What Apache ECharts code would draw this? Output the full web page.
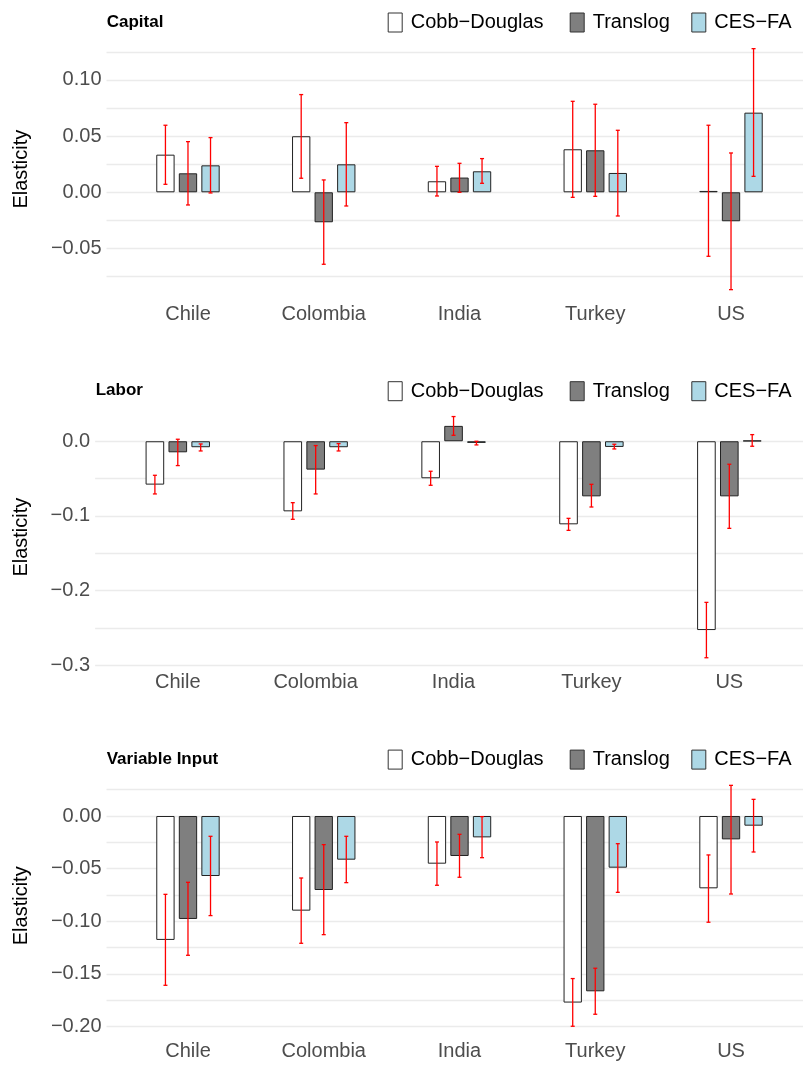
<!DOCTYPE html>
<html>
<head>
<meta charset="utf-8">
<script src="https://cdn.jsdelivr.net/npm/echarts@6/dist/echarts.min.js"></script>
<style>
  html, body { margin: 0; padding: 0; background: #ffffff; }
  #chart { width: 803px; height: 1066px; }
</style>
</head>
<body>
<div id="chart"></div>
<script>
// ---------- DATA ----------
const countries = ['Chile', 'Colombia', 'India', 'Turkey', 'US'];
const models = ['Cobb\u2212Douglas', 'Translog', 'CES\u2212FA'];
const panelTitles = ['Capital', 'Labor', 'Variable Input'];
const yTitle = 'Elasticity';

// Capital
const capitalCD = [0.0335, 0.0499, 0.0098, 0.0383, 0.0012];
const capitalCDLow = [0.0071, 0.0125, -0.0033, -0.0045, -0.0570];
const capitalCDHigh = [0.0597, 0.0870, 0.0231, 0.0810, 0.0597];
const capitalTL = [0.0169, -0.0267, 0.0131, 0.0374, -0.0258];
const capitalTLLow = [-0.0113, -0.0641, 0.0000, -0.0036, -0.0867];
const capitalTLHigh = [0.0451, 0.0110, 0.0258, 0.0784, 0.0350];
const capitalCES = [0.0240, 0.0249, 0.0187, 0.0172, 0.0709];
const capitalCESLow = [-0.0006, -0.0122, 0.0080, -0.0211, 0.0142];
const capitalCESHigh = [0.0487, 0.0620, 0.0300, 0.0552, 0.1279];

// Labor
const laborCD = [-0.0581, -0.0939, -0.0496, -0.1113, -0.2530];
const laborCDLow = [-0.0706, -0.1046, -0.0590, -0.1194, -0.2901];
const laborCDHigh = [-0.0456, -0.0823, -0.0402, -0.1033, -0.2159];
const laborTL = [-0.0148, -0.0380, 0.0206, -0.0738, -0.0738];
const laborTLLow = [-0.0326, -0.0706, 0.0080, -0.0881, -0.1167];
const laborTLHigh = [0.0027, -0.0058, 0.0331, -0.0577, -0.0308];
const laborCES = [-0.0080, -0.0080, -0.0022, -0.0076, 0.0009];
const laborCESLow = [-0.0130, -0.0130, -0.0049, -0.0103, -0.0067];
const laborCESHigh = [-0.0036, -0.0031, 0.0000, -0.0040, 0.0089];

// Variable input
const varInputCD = [-0.1177, -0.0899, -0.0453, -0.1772, -0.0687];
const varInputCDLow = [-0.1608, -0.1209, -0.0658, -0.1997, -0.1009];
const varInputCDHigh = [-0.0744, -0.0589, -0.0247, -0.1544, -0.0370];
const varInputTL = [-0.0978, -0.0703, -0.0380, -0.1665, -0.0222];
const varInputTLLow = [-0.1323, -0.1127, -0.0582, -0.1883, -0.0741];
const varInputTLHigh = [-0.0630, -0.0272, -0.0174, -0.1446, 0.0291];
const varInputCES = [-0.0570, -0.0415, -0.0203, -0.0491, -0.0092];
const varInputCESLow = [-0.0946, -0.0633, -0.0396, -0.0725, -0.0342];
const varInputCESHigh = [-0.0193, -0.0193, -0.0006, -0.0263, 0.0158];

const yDecimals = [2, 1, 2];

// ---------- ASSEMBLY ----------
const panelData = [
  [[capitalCD, capitalCDLow, capitalCDHigh], [capitalTL, capitalTLLow, capitalTLHigh], [capitalCES, capitalCESLow, capitalCESHigh]],
  [[laborCD, laborCDLow, laborCDHigh], [laborTL, laborTLLow, laborTLHigh], [laborCES, laborCESLow, laborCESHigh]],
  [[varInputCD, varInputCDLow, varInputCDHigh], [varInputTL, varInputTLLow, varInputTLHigh], [varInputCES, varInputCESLow, varInputCESHigh]]
];

// layout (pixels)
const layout = [
  { top: 36.6, height: 265.1, leftA: 106.5, leftB: 120.1, rightB: 798.9, titleX: 106.7, titleY: 22.2, legendTop: 12.5 },
  { top: 404.5, height: 265.3, leftA: 95.1, leftB: 108.85, rightB: 798.25, titleX: 95.7, titleY: 390.8, legendTop: 381.2 },
  { top: 773.3, height: 265.0, leftA: 106.5, leftB: 120.1, rightB: 798.9, titleX: 106.7, titleY: 759.3, legendTop: 749.6 }
];
const legendKeyX = [387.7, 569.7, 691.3];

const fills = ['#FFFFFF', '#7F7F7F', '#ADD8E6'];
const FONT = '"Liberation Sans", Arial, Helvetica, sans-serif';
const W = 803;
const BAR_FRAC = 0.135;
const GAP_FRAC = 0.23;

const grids = [], xAxes = [], yAxes = [], series = [], legends = [], graphics = [];

function yRange(p) {
  let lo = Infinity, hi = -Infinity;
  panelData[p].forEach(m => {
    m[1].forEach(v => { lo = Math.min(lo, v); });
    m[2].forEach(v => { hi = Math.max(hi, v); });
    m[0].forEach(v => { lo = Math.min(lo, v); hi = Math.max(hi, v); });
  });
  const e = (hi - lo) * 0.05;
  return [lo - e, hi + e];
}

function errRender(m) {
  return function (params, api) {
    const band = api.size([1, 0])[0];
    const off = (m - 1) * band * BAR_FRAC * (1 + GAP_FRAC);
    const p1 = api.coord([api.value(0), api.value(1)]);
    const p2 = api.coord([api.value(0), api.value(2)]);
    const x = p1[0] + off;
    const cap = 2;
    const style = { stroke: '#FF0000', lineWidth: 1.3 };
    return {
      type: 'group',
      children: [
        { type: 'line', shape: { x1: x, y1: p1[1], x2: x, y2: p2[1] }, style: style },
        { type: 'line', shape: { x1: x - cap, y1: p1[1], x2: x + cap, y2: p1[1] }, style: style },
        { type: 'line', shape: { x1: x - cap, y1: p2[1], x2: x + cap, y2: p2[1] }, style: style }
      ]
    };
  };
}

for (let p = 0; p < 3; p++) {
  const L = layout[p];
  const [ymin, ymax] = yRange(p);
  const dec = yDecimals[p];

  // grid A: gridlines + y labels (full panel width)
  const gA = grids.length;
  grids.push({ left: L.leftA, right: 0, top: L.top, height: L.height, containLabel: false });
  xAxes.push({ gridIndex: gA, type: 'value', min: 0, max: 1, show: false });
  yAxes.push({
    gridIndex: gA, type: 'value', min: ymin, max: ymax, splitNumber: 5,
    axisLine: { show: false }, axisTick: { show: false },
    axisLabel: {
      show: true, showMinLabel: false, showMaxLabel: false, margin: 5,
      color: '#4D4D4D', fontSize: 20, fontFamily: FONT,
      formatter: v => v.toFixed(dec).replace('-', '\u2212')
    },
    splitLine: { show: true, showMinLine: false, showMaxLine: false, lineStyle: { color: '#EBEBEB', width: 1.3 } },
    minorTick: { show: false, splitNumber: 2 },
    minorSplitLine: { show: true, lineStyle: { color: '#EBEBEB', width: 1.3 } }
  });

  // grid B: bars + category labels
  const gB = grids.length;
  grids.push({ left: L.leftB, right: W - L.rightB, top: L.top, height: L.height, containLabel: false });
  const xB = xAxes.length;
  xAxes.push({
    gridIndex: gB, type: 'category', data: countries,
    axisLine: { show: false }, axisTick: { show: false }, splitLine: { show: false },
    axisLabel: { color: '#4D4D4D', fontSize: 20, fontFamily: FONT, margin: 3 }
  });
  const yB = yAxes.length;
  yAxes.push({ gridIndex: gB, type: 'value', min: ymin, max: ymax, show: false, splitLine: { show: false } });

  for (let m = 0; m < 3; m++) {
    series.push({
      type: 'bar', name: models[m], xAxisIndex: xB, yAxisIndex: yB,
      data: panelData[p][m][0],
      barWidth: (BAR_FRAC * 100) + '%', barGap: (GAP_FRAC * 100) + '%',
      itemStyle: { color: fills[m], borderColor: '#222222', borderWidth: 1 },
      emphasis: { disabled: true }, silent: true, z: 2
    });
  }
  for (let m = 0; m < 3; m++) {
    const d = panelData[p][m];
    series.push({
      type: 'custom', name: 'err' + p + m, xAxisIndex: xB, yAxisIndex: yB,
      data: countries.map((c, i) => [i, d[1][i], d[2][i]]),
      encode: { x: 0, y: [1, 2] },
      renderItem: errRender(m), silent: true, z: 5, clip: false
    });
  }

  for (let m = 0; m < 3; m++) {
    legends.push({
      data: [models[m]], top: L.legendTop, left: legendKeyX[m], padding: 0,
      itemWidth: 14, itemHeight: 19, icon: 'rect', selectedMode: false,
      itemStyle: { borderColor: '#333333', borderWidth: 1 },
      textStyle: { color: '#000000', fontSize: 20, fontFamily: FONT, padding: [0, 0, 0, 3.5] }
    });
  }

  graphics.push({
    type: 'text', x: L.titleX, y: L.titleY,
    style: { text: panelTitles[p], fill: '#000000', font: 'bold 17px ' + FONT,
      textAlign: 'left', textVerticalAlign: 'middle', align: 'left', verticalAlign: 'middle' }
  });
  graphics.push({
    type: 'text', x: 21.7, y: L.top + L.height / 2, rotation: Math.PI / 2,
    style: { text: yTitle, fill: '#000000', font: '20px ' + FONT,
      textAlign: 'center', textVerticalAlign: 'middle', align: 'center', verticalAlign: 'middle' }
  });
}

const chart = echarts.init(document.getElementById('chart'), null, { renderer: 'canvas' });
chart.setOption({
  backgroundColor: '#FFFFFF',
  animation: false,
  textStyle: { fontFamily: FONT },
  grid: grids,
  xAxis: xAxes,
  yAxis: yAxes,
  legend: legends,
  graphic: graphics,
  series: series
});
</script>
</body>
</html>
